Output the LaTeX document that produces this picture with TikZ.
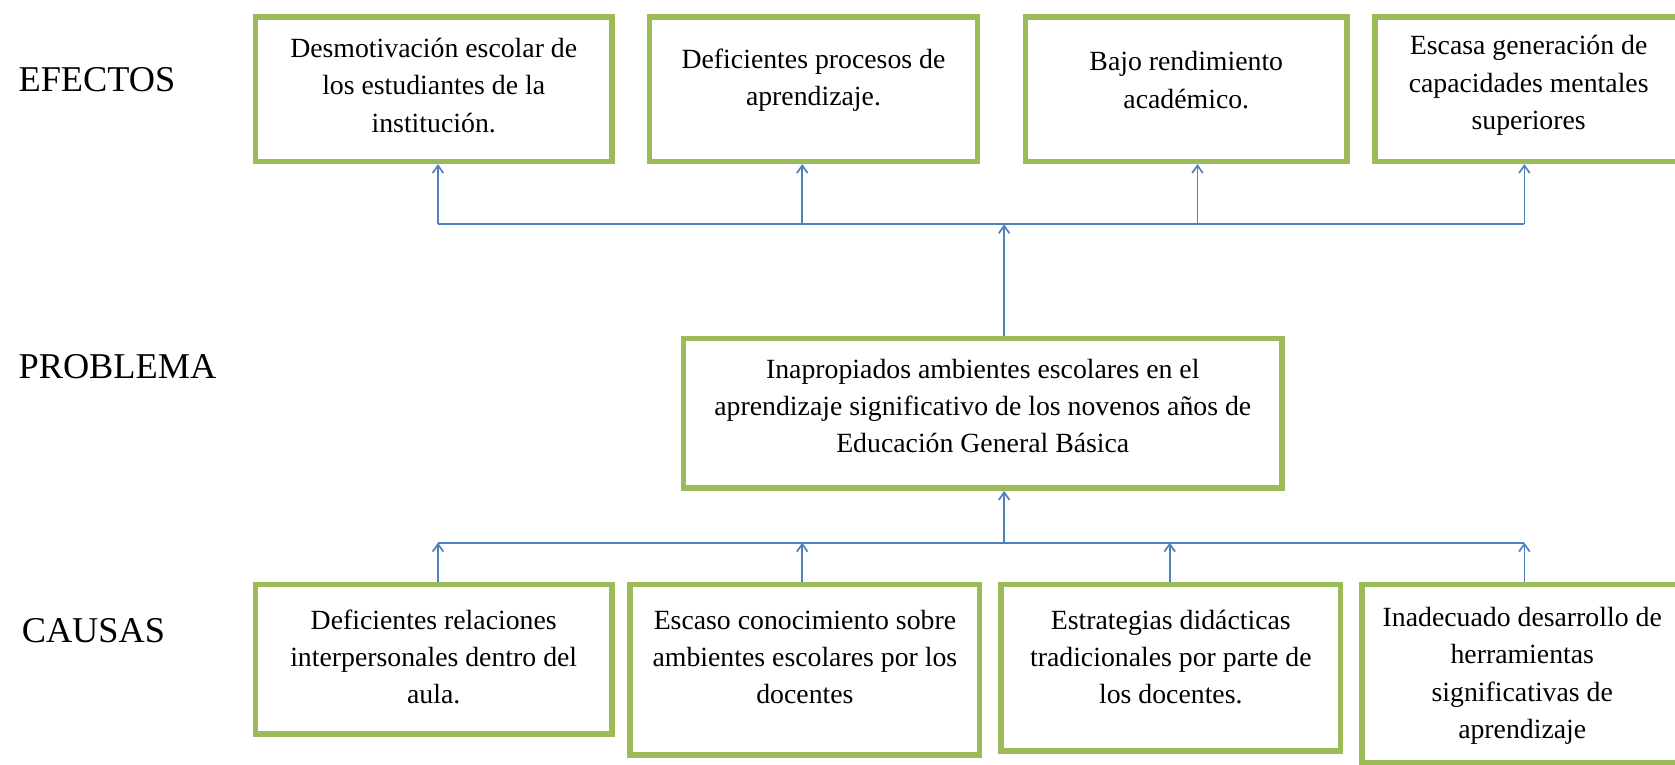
\documentclass[tikz,border=0pt]{standalone}
\usepackage{fontspec}
\setmainfont{Liberation Serif}
\usetikzlibrary{arrows.meta}
\definecolor{boxgreen}{HTML}{9BBB59}
\definecolor{linkblue}{HTML}{4F81BD}
\begin{document}
\begin{tikzpicture}[x=0.5pt,y=-0.5pt,
  box/.style={draw=boxgreen,line width=2.6pt,inner sep=0pt,anchor=center},
  txt/.style={inner sep=0pt,align=center,font=\fontsize{13}{17.5}\selectfont},
  lbl/.style={inner sep=0pt,anchor=west,font=\fontsize{17}{20}\selectfont},
  link/.style={draw=linkblue,line width=0.8pt},
  arr/.style={link,-{Straight Barb[length=3.5pt,width=5pt]}}]
\useasboundingbox (0,0) rectangle (1568,716);

% row labels
\node[lbl] (lef) at (17,75) {EFECTOS};
\node[lbl] (lpr) at (17,343) {PROBLEMA};
\node[lbl] (lca) at (20,590) {CAUSAS};

% effect boxes
\node[box,minimum width=167pt,minimum height=67.5pt] (b1) at (406,83.5) {};
\node[box,minimum width=153.5pt,minimum height=67.5pt] (b2) at (761.5,83.5) {};
\node[box,minimum width=150.5pt,minimum height=67.5pt] (b3) at (1110.5,83.5) {};
\node[box,minimum width=144pt,minimum height=67.5pt] (b4) at (1431,83.5) {};
\node[txt] (t1) at (406,80) {Desmotivación escolar de\\los estudiantes de la\\institución.};
\node[txt] (t2) at (761.5,75) {Deficientes procesos de\\aprendizaje.};
\node[txt] (t3) at (1110.5,75) {Bajo rendimiento\\académico.};
\node[txt] (t4) at (1431,80) {Escasa generación de\\capacidades mentales\\superiores};

% problem box
\node[box,minimum width=280pt,minimum height=70pt] (p) at (920,387) {};
\node[txt] (tp) at (920,380) {Inapropiados ambientes escolares en el\\aprendizaje significativo de los novenos años de\\Educación General Básica};

% cause boxes
\node[box,minimum width=167pt,minimum height=70pt] (c1) at (406,617) {};
\node[box,minimum width=163.5pt,minimum height=80pt] (c2) at (753.5,627) {};
\node[box,minimum width=159pt,minimum height=78pt] (c3) at (1096,625) {};
\node[box,minimum width=150pt,minimum height=83.5pt] (c4) at (1425,630.5) {};
\node[txt] (s1) at (406,615) {Deficientes relaciones\\interpersonales dentro del\\aula.};
\node[txt] (s2) at (753.5,615) {Escaso conocimiento sobre\\ambientes escolares por los\\docentes};
\node[txt] (s3) at (1096,615) {Estrategias didácticas\\tradicionales por parte de\\los docentes.};
\node[txt] (s4) at (1425,632.5) {Inadecuado desarrollo de\\herramientas\\significativas de\\aprendizaje};

% top connectors
\coordinate (e1) at (410,210);
\coordinate (e2) at (751,210);
\coordinate (e3) at (1121,210);
\coordinate (e4) at (1427,210);
\coordinate (jt) at (940,210);
\draw[link] (e1) -- (e4);
\draw[arr] (e1) -- (e1 |- b1.south);
\draw[arr] (e2) -- (e2 |- b2.south);
\draw[arr] (e3) -- (e3 |- b3.south);
\draw[arr] (e4) -- (e4 |- b4.south);
\draw[arr] (jt |- p.north) -- (jt);

% bottom connectors
\coordinate (k1) at (410,508);
\coordinate (k2) at (751,508);
\coordinate (k3) at (1095,508);
\coordinate (k4) at (1427,508);
\coordinate (jb) at (940,508);
\draw[link] (k1) -- (k4);
\draw[arr] (k1 |- c1.north) -- (k1);
\draw[arr] (k2 |- c2.north) -- (k2);
\draw[arr] (k3 |- c3.north) -- (k3);
\draw[arr] (k4 |- c4.north) -- (k4);
\draw[arr] (jb) -- (jb |- p.south);
\end{tikzpicture}
\end{document}
